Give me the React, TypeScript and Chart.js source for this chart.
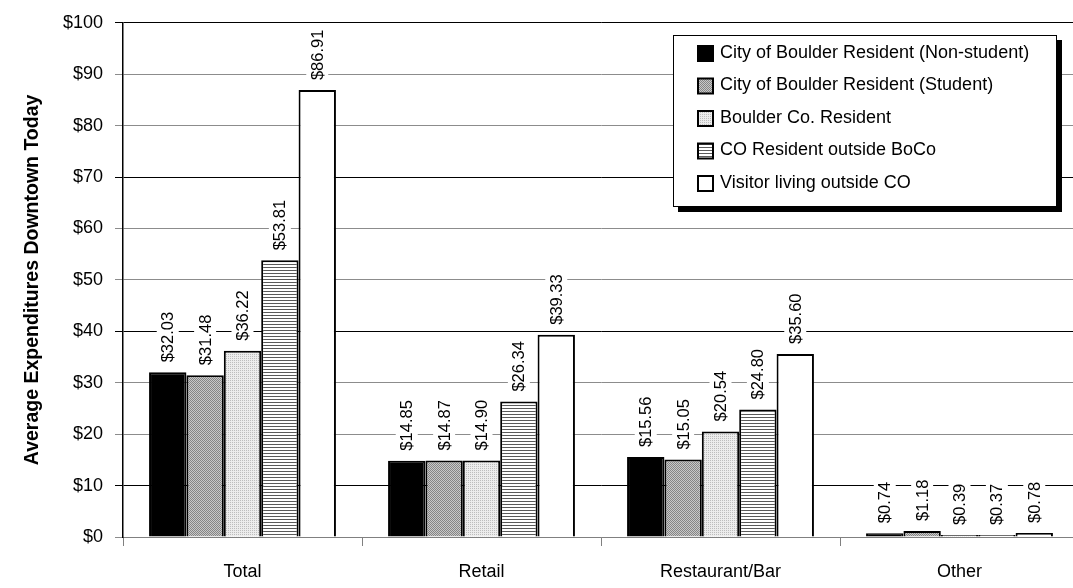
import React, { useEffect, useRef } from "react";
import { Chart, registerables } from "chart.js";
Chart.register(...registerables);

const categories = ["Total", "Retail", "Restaurant/Bar", "Other"];
const seriesNames = [
  "City of Boulder Resident (Non-student)",
  "City of Boulder Resident (Student)",
  "Boulder Co. Resident",
  "CO Resident outside BoCo",
  "Visitor living outside CO",
];
const nonStudent = [32.03, 14.85, 15.56, 0.74];
const student = [31.48, 14.87, 15.05, 1.18];
const boulderCo = [36.22, 14.9, 20.54, 0.39];
const coOutside = [53.81, 26.34, 24.8, 0.37];
const visitor = [86.91, 39.33, 35.6, 0.78];
const yMin = 0;
const yMax = 100;
const yStep = 10;
const yTitle = "Average Expenditures Downtown Today";

const FONT = "'Liberation Sans', Arial, sans-serif";

function makePattern(kind: string): CanvasPattern | string {
  const c = document.createElement("canvas");
  const g = c.getContext("2d")!;
  if (kind === "student") {
    c.width = 4; c.height = 4;
    g.fillStyle = "#c8c8c8"; g.fillRect(0, 0, 4, 4);
    g.fillStyle = "#858585";
    for (let i = 0; i < 4; i++) { g.fillRect(i, i, 1, 1); g.fillRect((i + 2) % 4, i, 1, 1); }
  } else if (kind === "boco") {
    c.width = 4; c.height = 4;
    g.fillStyle = "#ececec"; g.fillRect(0, 0, 4, 4);
    g.fillStyle = "#bdbdbd";
    g.fillRect(0, 0, 1, 1); g.fillRect(2, 2, 1, 1); g.fillRect(2, 0, 1, 1); g.fillRect(0, 2, 1, 1);
  } else if (kind === "stripes") {
    c.width = 4; c.height = 3;
    g.fillStyle = "#ffffff"; g.fillRect(0, 0, 4, 3);
    g.fillStyle = "#5a5a5a"; g.fillRect(0, 0, 4, 1);
  }
  const p = g.createPattern(c, "repeat");
  return p || "#cccccc";
}

export default function App() {
  const ref = useRef<HTMLCanvasElement | null>(null);
  useEffect(() => {
    if (!ref.current) return;
    const fills = ["#000000", makePattern("student"), makePattern("boco"), makePattern("stripes"), "#ffffff"];
    const seriesData = [nonStudent, student, boulderCo, coOutside, visitor];

    const labelPlugin = {
      id: "barLabels",
      afterDatasetsDraw(chart: any) {
        const ctx = chart.ctx;
        ctx.save();
        ctx.font = `16.5px ${FONT}`;
        chart.data.datasets.forEach((ds: any, di: number) => {
          const meta = chart.getDatasetMeta(di);
          meta.data.forEach((bar: any, i: number) => {
            const v = ds.data[i] as number;
            const text = "$" + v.toFixed(2);
            const w = ctx.measureText(text).width;
            const yb = bar.y - 10;
            ctx.fillStyle = "#ffffff";
            ctx.fillRect(bar.x - 11, yb - w - 2, 22, w + 4);
            ctx.save();
            ctx.translate(bar.x, yb);
            ctx.rotate(-Math.PI / 2);
            ctx.fillStyle = "#000000";
            ctx.textAlign = "left";
            ctx.textBaseline = "middle";
            ctx.fillText(text, 0, 1);
            ctx.restore();
          });
        });
        ctx.restore();
      },
    };

    const legendPlugin = {
      id: "boxLegend",
      afterDraw(chart: any) {
        const ctx = chart.ctx;
        const lx = 673, ly = 35, lw = 384, lh = 172;
        ctx.save();
        ctx.fillStyle = "#000";
        ctx.fillRect(lx + 5, ly + 5, lw, lh);
        ctx.fillStyle = "#fff";
        ctx.fillRect(lx, ly, lw, lh);
        ctx.strokeStyle = "#000";
        ctx.lineWidth = 1;
        ctx.strokeRect(lx + 0.5, ly + 0.5, lw - 1, lh - 1);
        ctx.font = `18px ${FONT}`;
        ctx.textBaseline = "middle";
        ctx.textAlign = "left";
        chart.data.datasets.forEach((ds: any, i: number) => {
          const cy = ly + 17 + i * 32.5;
          ctx.fillStyle = ds.backgroundColor;
          ctx.fillRect(698, cy - 6, 15, 15);
          ctx.strokeStyle = "#000";
          ctx.lineWidth = 2;
          ctx.strokeRect(698, cy - 6, 15, 15);
          ctx.fillStyle = "#000";
          ctx.fillText(ds.label, 720, cy + 1);
        });
        ctx.restore();
      },
    };

    const chart = new Chart(ref.current, {
      type: "bar",
      data: {
        labels: categories,
        datasets: seriesNames.map((name, i) => ({
          label: name,
          data: seriesData[i],
          backgroundColor: fills[i] as any,
          borderColor: "#000000",
          borderWidth: 2,
          borderSkipped: "bottom",
          categoryPercentage: 0.782,
          barPercentage: 1,
        })),
      },
      options: {
        responsive: false,
        animation: false,
        devicePixelRatio: 1,
        layout: { padding: { left: 0, right: 11, top: 21, bottom: 0 } },
        plugins: {
          legend: { display: false },
          tooltip: { enabled: false },
        },
        scales: {
          x: {
            afterFit: (s: any) => { s.height = 51; },
            grid: {
              offset: true,
              drawOnChartArea: false,
              drawTicks: true,
              tickLength: 9,
              color: "#808080",
            },
            border: { display: true, color: "#808080", width: 1 },
            ticks: {
              color: "#000",
              font: { family: FONT, size: 18 },
              padding: 15,
              maxRotation: 0,
            },
          },
          y: {
            min: yMin,
            max: yMax,
            afterFit: (s: any) => { s.width = 123; },
            grid: {
              color: (c: any) => ([1, 4, 7, 10].includes(c.index) ? "#000000" : "#8c8c8c"),
              tickLength: 8,
              lineWidth: 1,
            },
            border: { display: true, color: "#000", width: 1.5 },
            ticks: {
              stepSize: yStep,
              color: "#000",
              padding: 12,
              font: { family: FONT, size: 18 },
              callback: (v: any) => "$" + v,
            },
            title: {
              display: true,
              text: yTitle,
              color: "#000",
              font: { family: FONT, size: 19.5, weight: "bold" },
              padding: { top: 21, bottom: 7 },
            },
          },
        },
      },
      plugins: [labelPlugin, legendPlugin],
    });
    return () => chart.destroy();
  }, []);

  return (
    <div style={{ position: "absolute", left: 0, top: 0, width: 1073, height: 588, overflow: "hidden", background: "#fff" }}>
      <canvas ref={ref} width={1090} height={588} style={{ display: "block" }} />
    </div>
  );
}
